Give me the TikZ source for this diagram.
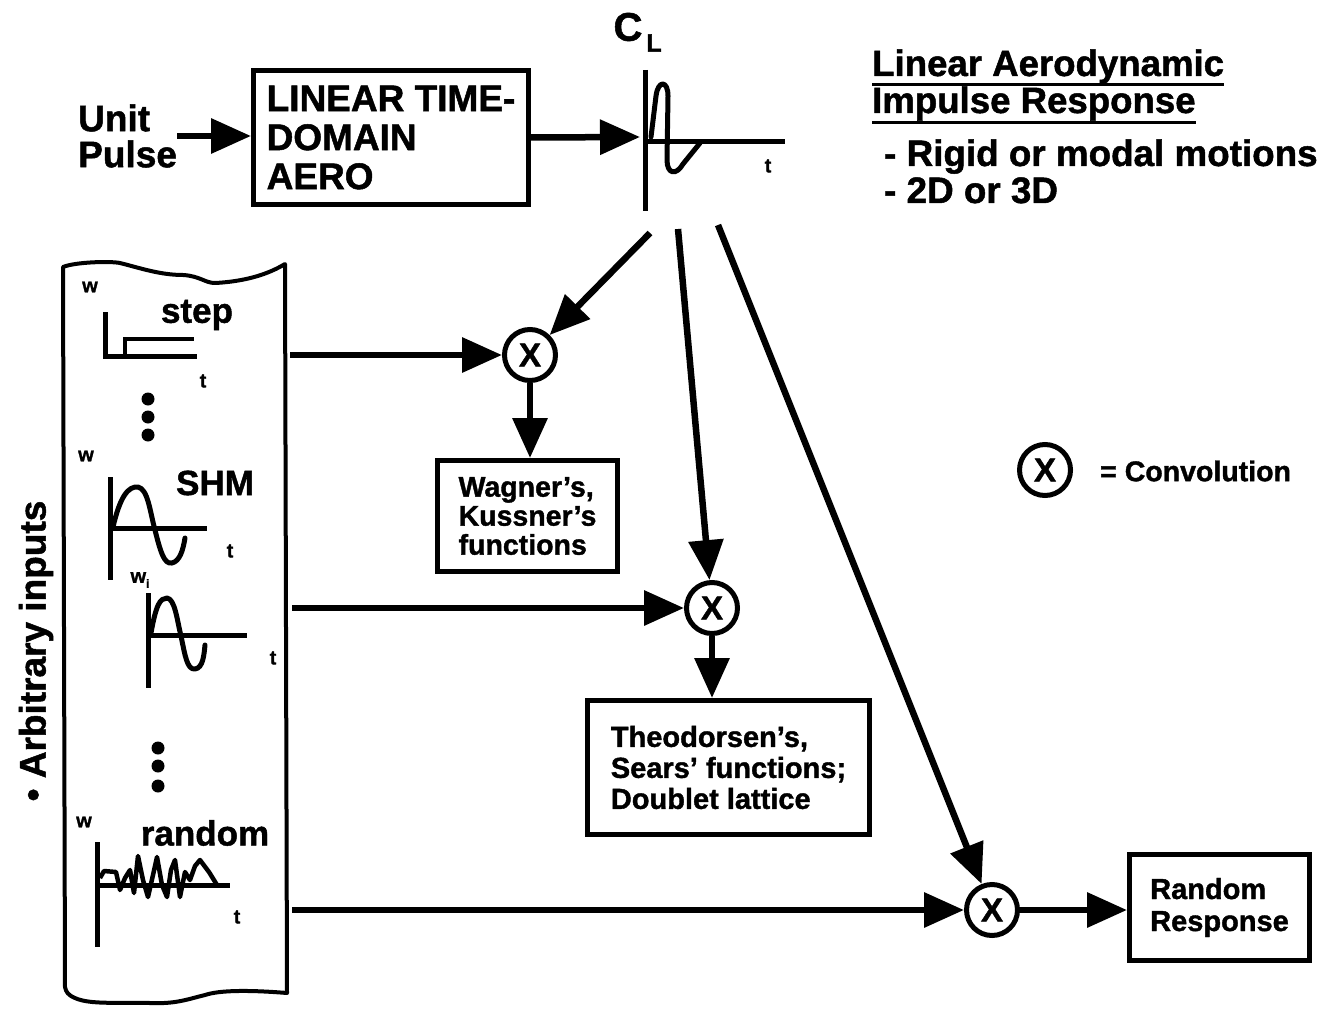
\documentclass[tikz,border=0pt]{standalone}
\usepackage{fontspec}
\setmainfont{Liberation Sans}[BoldFeatures={FakeBold=1.3}]
\usetikzlibrary{arrows.meta,calc}
\newcommand\fsz[2]{\fontsize{#1}{#2}\selectfont\bfseries}
\begin{document}
\begin{tikzpicture}[x=1pt,y=-1pt,
  every node/.style={inner sep=0pt},
  arr/.style={line width=6.5pt,-{Triangle[length=40pt,width=34pt]}},
  box/.style={draw,line width=5pt,align=left},
  conv/.style={draw,circle,line width=5pt,minimum size=51pt,font=\fsz{33}{33}},
  ax/.style={line width=5pt},
  wave/.style={line width=5pt,line join=round,line cap=round},
  lbl/.style={font=\fsz{20}{20}},
  big/.style={font=\fsz{35}{35}},
]
\useasboundingbox (0,0) rectangle (1324,1011);

% ---- top row
\node[font=\fsz{37}{36},align=left,anchor=west] (up) at (78,136) {Unit\\Pulse};
\node[box,font=\fsz{37}{39},minimum width=275pt,minimum height=134pt] (aero) at (391,137.5) {LINEAR TIME-\\DOMAIN\\AERO};
\draw[arr] (up.east) -- (up.east -| aero.west);

% C_L plot
\node[font=\fsz{40}{40}] (cl) at (628,27) {C};
\node[font=\fsz{25}{25}] (cls) at (654,43) {L};
\draw[ax] (645,70) -- (645,211);
\draw[ax] (645,142) -- (785,142);
\draw[wave] (651,137) -- (656,96) .. controls (658,80) and (668,80) .. (668,96) -- (667,160) .. controls (667,174) and (676,176) .. (683,164) -- (700,143);
\node[lbl] (clt) at (768,166) {t};
\coordinate (clin) at (640,137);
\draw[arr] (aero.east) -- (clin);

% title
\node[font=\fsz{36.6}{36},anchor=base west] (ti1) at (872,76) {Linear Aerodynamic};
\node[font=\fsz{36.6}{36},anchor=base west] (ti2) at (872,113) {Impulse Response};
\draw[line width=3pt] ($(ti1.base west)+(0,9)$) -- ($(ti1.base east)+(0,9)$);
\draw[line width=3pt] ($(ti2.base west)+(0,10)$) -- ($(ti2.base east)+(0,10)$);
\node[font=\fsz{36.8}{36},anchor=base west] (bu1) at (884,166) {- Rigid or modal motions};
\node[font=\fsz{36.8}{36},anchor=base west] (bu2) at (884,203) {- 2D or 3D};

% legend
\node[conv] (lx) at (1045,470) {X};
\node[font=\fsz{28.5}{28.5},anchor=west] (lt) at (1100,471) {= Convolution};

% ---- left panel
\draw[line width=4pt,line join=round] (63,267) .. controls (75,262) and (110,261) .. (120,263)
  .. controls (140,268) and (160,275) .. (183,275) .. controls (200,276) and (205,283) .. (215,283)
  .. controls (235,282) and (262,278) .. (285,264) -- (287,993)
  .. controls (250,990) and (220,990) .. (205,995) .. controls (185,1000) and (175,1004) .. (150,1003)
  .. controls (120,1002) and (90,1005) .. (75,998) .. controls (68,995) and (66,992) .. (65,987) -- cycle;
\node[font=\fsz{37}{37},rotate=90] (arb) at (36,651) {\textbullet\ Arbitrary inputs};

% step
\node[lbl] (w1) at (90,287) {w};
\node[big] (stp) at (197,315) {step};
\draw[ax] (105,312) -- (105,356) -- (197,356);
\draw[line width=4pt] (125,356) -- (125,339) -- (194,339);
\node[lbl] (st) at (203,381) {t};
\fill (148,399) circle (6.5) (148,417) circle (6.5) (148,435) circle (6.5);

% SHM
\node[lbl] (w2) at (86,456) {w};
\node[big] (shm) at (215,483) {SHM};
\draw[ax] (110,477) -- (110,580);
\draw[ax] (110,528) -- (207,528);
\draw[wave] (113,527) .. controls (120,497) and (128,486) .. (138,487) .. controls (148,489) and (150,512) .. (155,530)
  .. controls (160,550) and (164,565) .. (172,563) .. controls (180,561) and (183,550) .. (185,538);
\node[lbl] (sht) at (230,551) {t};

% second SHM
\node[lbl] (w3) at (140,580) {w\raisebox{-5pt}{\fsz{12}{12}i}};
\draw[ax] (148,593) -- (148,688);
\draw[ax] (148,635) -- (247,635);
\draw[wave] (151,633) .. controls (156,605) and (160,598) .. (167,598) .. controls (175,599) and (177,620) .. (181,636)
  .. controls (185,655) and (187,670) .. (195,669) .. controls (203,668) and (204,655) .. (205,645);
\node[lbl] (s2t) at (273,658) {t};
\fill (158,748) circle (6.5) (158,766) circle (6.5) (158,786) circle (6.5);

% random
\node[lbl] (w4) at (84,822) {w};
\node[big] (rnd) at (205,833) {random};
\draw[ax] (97,842) -- (97,947);
\draw[ax] (97,885) -- (230,885);
\draw[line width=4.5pt,line join=round] (100,878) -- (104,871) -- (116,872) -- (120,890) -- (125,878) -- (130,870) -- (134,893) -- (138,856)
  -- (143,880) -- (148,897) -- (153,875) -- (157,857) -- (162,885) -- (167,897) -- (171,870) -- (175,860) -- (180,897)
  -- (185,872) -- (190,880) -- (195,866) -- (200,860) -- (209,872) -- (217,885);
\node[lbl] (rt) at (237,917) {t};

% ---- convolutions and results
\node[conv] (x1) at (530,355) {X};
\node[conv] (x2) at (712,608) {X};
\node[conv] (x3) at (992,910) {X};
\node[box,font=\fsz{28.5}{29},minimum width=180pt,minimum height=111pt] (wag) at (527.5,516) {Wagner's,\\Kussner's\\functions};
\node[box,font=\fsz{29}{31},minimum width=282pt,minimum height=134pt] (th) at (728.5,767.5) {Theodorsen's,\\Sears' functions;\\Doublet lattice};
\node[box,font=\fsz{29}{32},minimum width=180pt,minimum height=106pt] (rr) at (1219.5,907.5) {Random\\Response};

\coordinate (p1) at (290,355);
\coordinate (p2) at (292,608);
\coordinate (p3) at (292,910);
\coordinate (c1) at (650,233);
\coordinate (c2) at (678,229);
\coordinate (c3) at (718,225);

\draw[arr] (p1) -- (x1);
\draw[arr] (p2) -- (x2);
\draw[arr] (p3) -- (x3);
\draw[arr] (c1) -- (x1);
\draw[arr] (c2) -- (x2);
\draw[arr] (c3) -- (x3);
\draw[arr] (x1.south) -- (x1.south |- wag.north);
\draw[arr] (x2.south) -- (x2.south |- th.north);
\draw[arr] (x3.east) -- (x3.east -| rr.west);
\end{tikzpicture}
\end{document}
